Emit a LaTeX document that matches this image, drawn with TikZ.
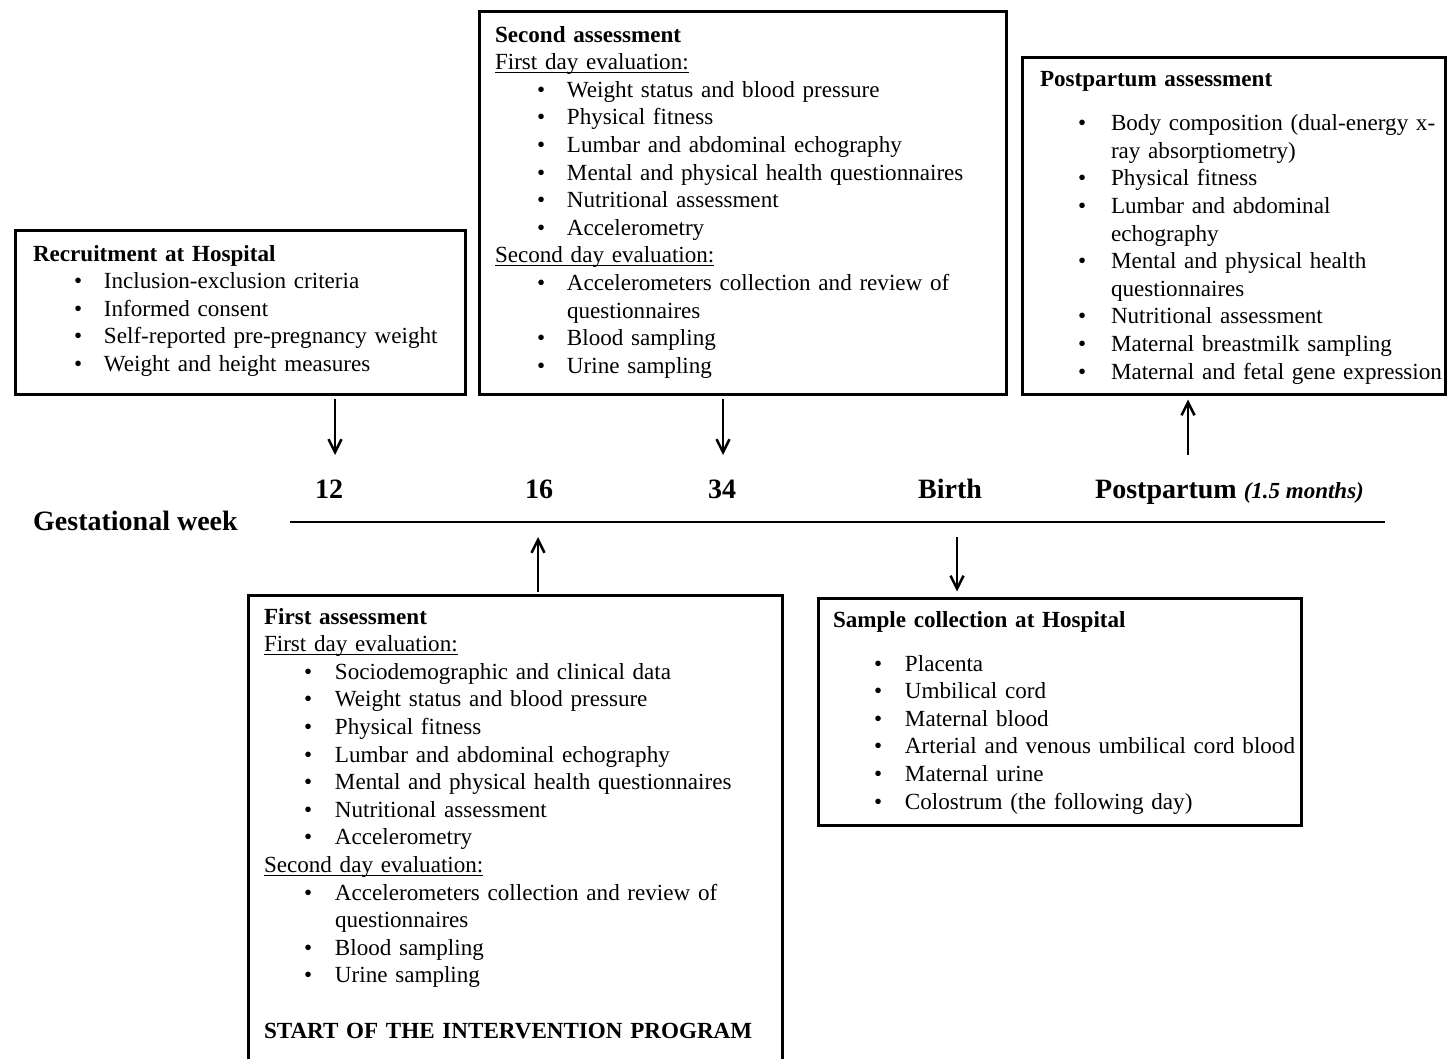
\documentclass[tikz,border=0pt]{standalone}
\usepackage{fontspec}
\setmainfont{Liberation Serif}
\usetikzlibrary{arrows.meta}
\newlength\bulx
\newlength\txtx
\newcommand{\itm}[1]{\leavevmode\hspace*{\bulx}\makebox[\dimexpr\txtx-\bulx\relax][l]{\textbullet}#1}
\newcommand{\cnt}[1]{\leavevmode\hspace*{\txtx}#1}
\newsavebox\ulbox
\newcommand{\uln}[1]{\leavevmode\sbox\ulbox{#1}\rlap{\rule[-3.2pt]{\wd\ulbox}{1.1pt}}\usebox\ulbox}
\tikzset{
  box/.style={draw, line width=3pt, rectangle, inner sep=0pt, outer sep=0pt, anchor=north west},
  txt/.style={anchor=north west, inner sep=0pt, outer sep=0pt, align=left, text width=560pt,
    font=\fontsize{23.1pt}{27.6pt}\selectfont},
  lab/.style={inner sep=0pt, font=\fontsize{28pt}{32pt}\selectfont\bfseries},
  arr/.style={line width=2.5pt, -{Straight Barb[length=13pt,width=13pt]}}
}
\begin{document}
\begin{tikzpicture}[x=1pt,y=-1pt]
\useasboundingbox (0,0) rectangle (1447,1059);
\clip (0,0) rectangle (1447,1059);
\fill[white] (0,0) rectangle (1447,1059);

% boxes
\node[box, minimum width=450pt, minimum height=164pt] (rec) at (15.5,230.5) {};
\node[box, minimum width=527pt, minimum height=383pt] (sec) at (479.5,11.5) {};
\node[box, minimum width=423pt, minimum height=337pt] (post) at (1022.5,57.5) {};
\node[box, minimum width=534pt, minimum height=480pt] (first) at (248.5,595.5) {};
\node[box, minimum width=483pt, minimum height=227pt] (sample) at (818.5,598.5) {};

% texts
\node[txt] (recT) at (33,241.7) {\raggedright\setlength\bulx{41pt}\setlength\txtx{71pt}%
\strut\textbf{Recruitment at Hospital}\\
\itm{Inclusion-exclusion criteria}\\
\itm{Informed consent}\\
\itm{Self-reported pre-pregnancy weight}\\
\itm{Weight and height measures}};

\node[txt] (secT) at (495,22.7) {\raggedright\setlength\bulx{42pt}\setlength\txtx{72pt}%
\strut\textbf{Second assessment}\\
\uln{First day evaluation:}\\
\itm{Weight status and blood pressure}\\
\itm{Physical fitness}\\
\itm{Lumbar and abdominal echography}\\
\itm{Mental and physical health questionnaires}\\
\itm{Nutritional assessment}\\
\itm{Accelerometry}\\
\uln{Second day evaluation:}\\
\itm{Accelerometers collection and review of}\\
\cnt{questionnaires}\\
\itm{Blood sampling}\\
\itm{Urine sampling}};

\node[txt] (postT) at (1040,66.7) {\raggedright\setlength\bulx{38pt}\setlength\txtx{71pt}%
\strut\textbf{Postpartum assessment}\\[17pt]
\itm{Body composition (dual-energy x-}\\
\cnt{ray absorptiometry)}\\
\itm{Physical fitness}\\
\itm{Lumbar and abdominal}\\
\cnt{echography}\\
\itm{Mental and physical health}\\
\cnt{questionnaires}\\
\itm{Nutritional assessment}\\
\itm{Maternal breastmilk sampling}\\
\itm{Maternal and fetal gene expression}};

\node[txt] (firstT) at (264,604.7) {\raggedright\setlength\bulx{40pt}\setlength\txtx{71pt}%
\strut\textbf{First assessment}\\
\uln{First day evaluation:}\\
\itm{Sociodemographic and clinical data}\\
\itm{Weight status and blood pressure}\\
\itm{Physical fitness}\\
\itm{Lumbar and abdominal echography}\\
\itm{Mental and physical health questionnaires}\\
\itm{Nutritional assessment}\\
\itm{Accelerometry}\\
\uln{Second day evaluation:}\\
\itm{Accelerometers collection and review of}\\
\cnt{questionnaires}\\
\itm{Blood sampling}\\
\itm{Urine sampling}\\[27.6pt]
\textbf{START OF THE INTERVENTION PROGRAM}};

\node[txt] (sampleT) at (833,607.7) {\raggedright\setlength\bulx{41pt}\setlength\txtx{72pt}%
\strut\textbf{Sample collection at Hospital}\\[16.5pt]
\itm{Placenta}\\
\itm{Umbilical cord}\\
\itm{Maternal blood}\\
\itm{Arterial and venous umbilical cord blood}\\
\itm{Maternal urine}\\
\itm{Colostrum (the following day)}};

% timeline
\node[lab, anchor=base] (w12) at (329,498) {12};
\node[lab, anchor=base] (w16) at (539,498) {16};
\node[lab, anchor=base] (w34) at (722,498) {34};
\node[lab, anchor=base] (wbirth) at (950,498) {Birth};
\node[lab, anchor=base west] (wpost) at (1095,498) {Postpartum {\fontsize{23pt}{27pt}\selectfont\bfseries\itshape (1.5 months)}};
\node[lab, anchor=base west] (gw) at (33,530) {Gestational week};
\coordinate (l0) at (290,522);
\coordinate (l1) at (1385,522);
\draw[line width=2pt] (l0) -- (l1);

% arrows
\coordinate (a12) at (335,455);
\coordinate (a34) at (723,455);
\coordinate (app) at (1188,455);
\coordinate (a16) at (538,537);
\coordinate (abirth) at (957,537);
\draw[arr, shorten <=4pt] (rec.south -| a12) -- (a12);
\draw[arr, shorten <=4pt] (sec.south -| a34) -- (a34);
\draw[arr, shorten >=5pt] (app) -- (post.south -| app);
\draw[arr, shorten <=4pt] (first.north -| a16) -- (a16);
\draw[arr, shorten >=7pt] (abirth) -- (sample.north -| abirth);
\end{tikzpicture}
\end{document}
